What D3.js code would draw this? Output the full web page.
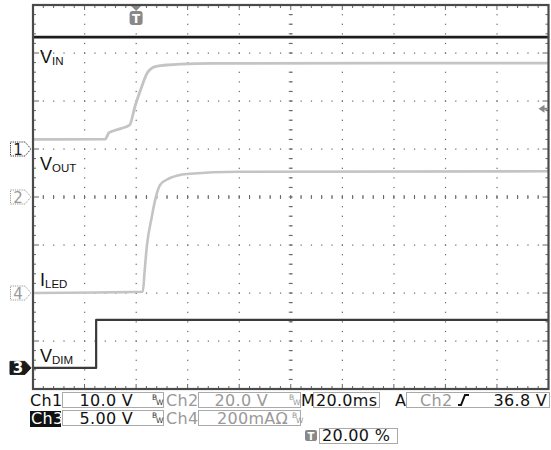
<!DOCTYPE html>
<html><head><meta charset="utf-8">
<script src="https://cdn.jsdelivr.net/npm/d3@7"></script>
<style>body{margin:0;background:#fff}svg{display:block}</style>
</head><body><svg id="c" width="551" height="450"></svg>
<script>
// ---- channel setup ----
const channelIds = ["1", "2", "3", "4"];
const voltsPerDiv = [10, 20, 5, 0.2];        // Ch4 is a current probe (A/div)
const groundDiv = [3.0, 4.0, 7.56, 6.0];     // ground marker, divisions below top

// ---- captured waveforms (time in ms, trigger at 0) ----
const timeRange = [-40, 160];                 // 20 ms/div, trigger at 20 %
const vinTime = [-40, 160];
const vinVolts = [23.3, 23.3];
const voutTime = [-40, -12, -10.5, -6, -2.5, -0.5, 2.2, 4.2, 7.4, 11.9, 17, 30, 160];
const voutVolts = [24.0, 24.1, 26.8, 28.5, 30.0, 37.5, 46.0, 51.5, 54.3, 55.0, 55.4, 55.7, 55.8];
const iledTime = [-40, 2.6, 3.3, 4.15, 6.1, 7.4, 9.3, 13.2, 19.7, 40, 160];
const iledAmps = [0, 0.005, 0.09, 0.193, 0.318, 0.388, 0.45, 0.479, 0.496, 0.505, 0.507];
const vdimTime = [-40, -15.5, -15.5, 160];
const vdimVolts = [0, 0, 5, 5];

// ---- trace labels ----
const traceLabels = [["V", "IN"], ["V", "OUT"], ["I", "LED"], ["V", "DIM"]];

// ---- readout ----
const scaleText = ["10.0 V", "20.0 V", "5.00 V", "200mA"];
const timebaseText = "20.0ms";
const triggerSource = "Ch2";
const triggerLevel = "36.8 V";
const triggerPos = "20.00 %";
const triggerLevelVolts = 36.8;

const svg = d3.select("#c");
const X0 = 33, X1 = 548.5, Y0 = 5, Y1 = 389;
const nx = 10, ny = 8;
const dx = (X1 - X0) / nx, dy = (Y1 - Y0) / ny;

const x = d3.scaleLinear().domain(timeRange).range([X0, X1]);
const yFor = i => d3.scaleLinear()
  .domain([-(ny - groundDiv[i]) * voltsPerDiv[i], groundDiv[i] * voltsPerDiv[i]])
  .range([Y1, Y0]);
const yCh = channelIds.map((_, i) => yFor(i));

// ---- graticule ----
const g = svg.append("g");
const dotColor = "#666";
for (let j = 1; j < ny; j++) {
  const yy = Y0 + j * dy;
  for (let k = 1; k < nx * 5; k++) {
    g.append("rect").attr("x", X0 + k * dx / 5 - 0.5).attr("y", yy - 0.5)
      .attr("width", 1.2).attr("height", 1.2).attr("fill", dotColor);
  }
}
for (let i = 1; i < nx; i++) {
  const xx = X0 + i * dx;
  for (let k = 1; k < ny * 5; k++) {
    g.append("rect").attr("x", xx - 0.5).attr("y", Y0 + k * dy / 5 - 0.5)
      .attr("width", 1.2).attr("height", 1.2).attr("fill", dotColor);
  }
}
// centre-line ticks
for (let k = 1; k < nx * 5; k++) {
  const xx = X0 + k * dx / 5;
  g.append("line").attr("x1", xx).attr("x2", xx).attr("y1", Y0 + 4 * dy - 2).attr("y2", Y0 + 4 * dy + 2)
    .attr("stroke", dotColor).attr("stroke-width", 1);
}
for (let k = 1; k < ny * 5; k++) {
  const yy = Y0 + k * dy / 5;
  g.append("line").attr("x1", X0 + 5 * dx - 2).attr("x2", X0 + 5 * dx + 2).attr("y1", yy).attr("y2", yy)
    .attr("stroke", dotColor).attr("stroke-width", 1);
}
// border ticks
for (let k = 1; k < nx * 5; k++) {
  const xx = X0 + k * dx / 5, len = k % 5 === 0 ? 5 : 3;
  g.append("line").attr("x1", xx).attr("x2", xx).attr("y1", Y0).attr("y2", Y0 + len).attr("stroke", dotColor);
  g.append("line").attr("x1", xx).attr("x2", xx).attr("y1", Y1).attr("y2", Y1 - len).attr("stroke", dotColor);
}
for (let k = 1; k < ny * 5; k++) {
  const yy = Y0 + k * dy / 5, len = k % 5 === 0 ? 6 : 3;
  g.append("line").attr("x1", X0).attr("x2", X0 + len).attr("y1", yy).attr("y2", yy).attr("stroke", dotColor);
  g.append("line").attr("x1", X1).attr("x2", X1 - len).attr("y1", yy).attr("y2", yy).attr("stroke", dotColor);
}

// ---- traces ----
const traces = [
  { t: vinTime, v: vinVolts, ch: 0, color: "#1c1c1c", w: 2.8, curve: d3.curveLinear },
  { t: voutTime, v: voutVolts, ch: 1, color: "#c4c4c4", w: 2.8, curve: d3.curveMonotoneX },
  { t: iledTime, v: iledAmps, ch: 3, color: "#c4c4c4", w: 2.6, curve: d3.curveMonotoneX },
  { t: vdimTime, v: vdimVolts, ch: 2, color: "#3a3a3a", w: 2.2, curve: d3.curveLinear }
];
const tg = svg.append("g");
traces.forEach(tr => {
  const line = d3.line().x(d => x(d[0])).y(d => yCh[tr.ch](d[1])).curve(tr.curve);
  tg.append("path").attr("d", line(d3.zip(tr.t, tr.v)))
    .attr("fill", "none").attr("stroke", tr.color).attr("stroke-width", tr.w)
    .attr("stroke-linejoin", "round");
});

// ---- frame ----
svg.append("rect").attr("x", X0).attr("y", Y0).attr("width", X1 - X0).attr("height", Y1 - Y0)
  .attr("fill", "none").attr("stroke", "#4a4a4a").attr("stroke-width", 2.2);

// ---- trace labels ----
const labelBase = [63, 170, 286, 362];
traceLabels.forEach((lb, i) => {
  const t = svg.append("text").attr("x", 40).attr("y", labelBase[i])
    .attr("font-family", "Liberation Sans, Arial, sans-serif").attr("fill", "#111");
  t.append("tspan").attr("font-size", 18).text(lb[0]);
  t.append("tspan").attr("font-size", 11.5).attr("dy", 2).text(lb[1]);
});

// ---- channel ground markers ----
const markerOrder = [0, 1, 3, 2];
markerOrder.forEach(i => {
  const yy = yCh[i](0);
  const filled = i === 2;
  const x0 = filled ? 10 : 10.5, x1 = 25, tip = 31, h = filled ? 6.5 : 7;
  svg.append("path")
    .attr("d", `M${x0},${yy - h}H${x1}L${tip},${yy}L${x1},${yy + h}H${x0}Z`)
    .attr("fill", filled ? "#1a1a1a" : "#fff")
    .attr("stroke", filled ? "#1a1a1a" : (i === 0 ? "#333" : "#999"))
    .attr("stroke-width", 1)
    .attr("stroke-dasharray", filled ? null : "1.2,1");
  svg.append("text").attr("x", 18).attr("y", yy + 5.5).attr("text-anchor", "middle")
    .attr("font-family", "DejaVu Sans, sans-serif").attr("font-size", 15)
    .attr("fill", filled ? "#fff" : (i === 0 ? "#222" : "#999"))
    .attr("font-weight", filled ? "bold" : "normal")
    .text(channelIds[i]);
});

// ---- trigger position marker (top) ----
const tx = x(0);
svg.append("path").attr("d", `M${tx - 5},${Y0 + 1}H${tx + 5}L${tx},${Y0 + 6}Z`).attr("fill", "#888");
svg.append("rect").attr("x", tx - 6.5).attr("y", Y0 + 6).attr("width", 13).attr("height", 14).attr("rx", 3)
  .attr("fill", "#888");
svg.append("text").attr("x", tx).attr("y", Y0 + 18).attr("text-anchor", "middle")
  .attr("font-family", "DejaVu Sans, sans-serif").attr("font-weight", "bold").attr("font-size", 12)
  .attr("fill", "#fff").text("T");

// ---- trigger level arrow (right) ----
const ty = yCh[1](triggerLevelVolts);
svg.append("path").attr("d", `M${X1 - 10},${ty}L${X1 - 4},${ty - 4}V${ty - 1}H${X1 - 1}V${ty + 1}H${X1 - 4}V${ty + 4}Z`)
  .attr("fill", "#888");

// ---- readout ----
const ro = svg.append("g").attr("font-family", "DejaVu Sans, sans-serif").attr("font-size", 16);
const box = (x0, y0, w, h) => ro.append("rect").attr("x", x0 + 0.5).attr("y", y0 + 0.5)
  .attr("width", w).attr("height", h).attr("fill", "none").attr("stroke", "#aaa").attr("stroke-width", 1);
const txt = (s, xx, yy, col, anchor) => ro.append("text").attr("x", xx).attr("y", yy)
  .attr("fill", col || "#111").attr("text-anchor", anchor || "start").attr("letter-spacing", 0.3).text(s);
const bw = (xx, yy, col) => {
  ro.append("text").attr("x", xx).attr("y", yy - 6).attr("font-size", 7.5).attr("fill", col).text("B");
  ro.append("text").attr("x", xx + 4).attr("y", yy - 1).attr("font-size", 7.5).attr("fill", col).text("W");
};
const r1 = 406, r2 = 424;
// row 1
txt("Ch" + channelIds[0], 30, r1);
box(62, 392, 101, 15); txt(scaleText[0], 133, r1, "#111", "end");
bw(152, r1, "#333");
txt("Ch" + channelIds[1], 166, r1, "#999");
box(198, 392, 102, 15); txt(scaleText[1], 268, r1, "#999", "end");
bw(289, r1, "#999");
txt("M", 301, r1);
box(313, 392, 66, 15); txt(timebaseText, 316, r1);
txt("A", 395, r1);
box(406, 392, 143, 15);
txt(triggerSource, 420, r1, "#999");
ro.append("path").attr("d", `M458,${r1 - 1}H461L465,${r1 - 11}H469`).attr("fill", "none")
  .attr("stroke", "#111").attr("stroke-width", 2);
txt(triggerLevel, 547, r1, "#111", "end");
// row 2
ro.append("rect").attr("x", 30).attr("y", 411).attr("width", 31).attr("height", 16).attr("fill", "#111");
txt("Ch" + channelIds[2], 31, r2, "#fff");
box(62, 410, 101, 15); txt(scaleText[2], 133, r2, "#111", "end");
bw(152, r2, "#333");
txt("Ch" + channelIds[3], 166, r2, "#999");
box(198, 410, 102, 15); txt(scaleText[3] + "Ω", 217, r2, "#999");
bw(292, r2, "#999");
// row 3
ro.append("rect").attr("x", 305).attr("y", 430).attr("width", 12).attr("height", 11).attr("rx", 2).attr("fill", "#888");
ro.append("text").attr("x", 311).attr("y", 439.5).attr("text-anchor", "middle").attr("font-size", 10)
  .attr("font-weight", "bold").attr("fill", "#fff").text("T");
box(319, 428, 78, 15); txt(triggerPos, 322, 441);
</script></body></html>
